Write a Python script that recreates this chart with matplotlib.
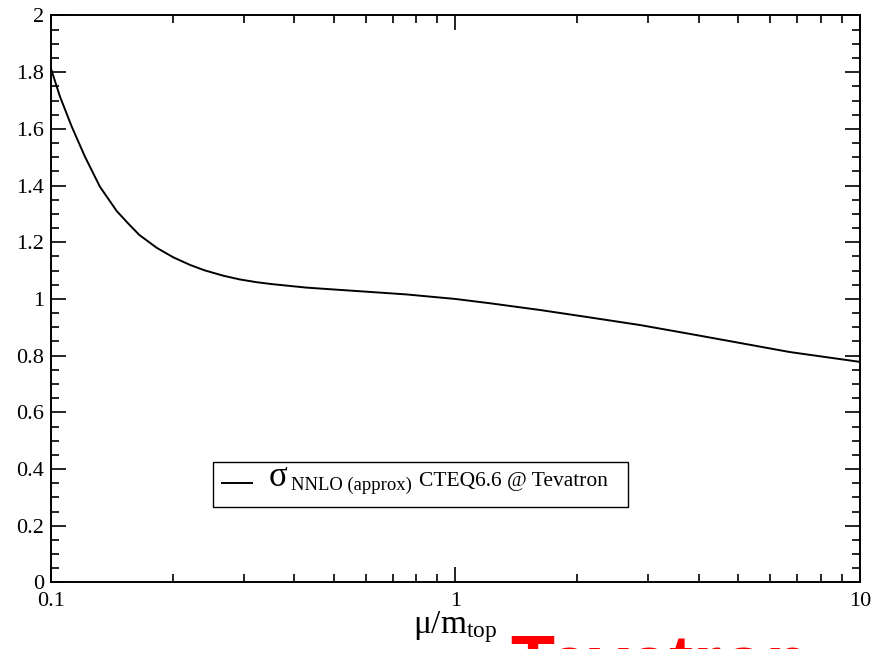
import matplotlib

matplotlib.use("Agg")
import matplotlib.pyplot as plt
from matplotlib.patches import Rectangle
from matplotlib.ticker import FixedLocator, FuncFormatter, MultipleLocator

plt.rcParams["font.family"] = ["Liberation Serif", "DejaVu Serif"]
plt.rcParams["mathtext.fontset"] = "custom"
plt.rcParams["mathtext.rm"] = "Liberation Serif"
plt.rcParams["mathtext.it"] = "Liberation Serif:italic"

# mu / m_top (log scale) and normalised NNLO cross section
MU_OVER_MTOP = [0.100, 0.1054, 0.1127, 0.1215, 0.1323, 0.1456, 0.155, 0.1655, 0.183, 0.2008,
                0.221, 0.240, 0.267, 0.293, 0.323, 0.354, 0.429, 0.518, 0.627, 0.757,
                0.916, 1.0, 1.215, 1.62, 2.146, 2.86, 3.79, 5.04, 6.69, 10.0]
SIGMA_RATIO = [1.815, 1.714, 1.608, 1.502, 1.396, 1.310, 1.268, 1.226, 1.180, 1.147,
               1.120, 1.101, 1.082, 1.069, 1.059, 1.052, 1.040, 1.032, 1.024, 1.016,
               1.005, 1.000, 0.985, 0.961, 0.935, 0.908, 0.877, 0.845, 0.813, 0.778]

X_TICKS = [0.1, 1, 10]
Y_MAX = 2.0

fig = plt.figure(figsize=(8.85, 6.49), dpi=100)
ax = fig.add_axes([0.0573, 0.1025, 0.9145, 0.8737])

ax.plot(MU_OVER_MTOP, SIGMA_RATIO, color="black", lw=1.4, solid_joinstyle="round")

ax.set_xscale("log")
ax.set_xlim(0.1, 10)
ax.set_ylim(0, Y_MAX)
ax.xaxis.set_major_locator(FixedLocator(X_TICKS))
ax.xaxis.set_major_formatter(FuncFormatter(lambda v, p: f"{v:g}"))
ax.yaxis.set_major_locator(MultipleLocator(0.2))
ax.yaxis.set_minor_locator(MultipleLocator(0.05))
ax.yaxis.set_major_formatter(FuncFormatter(lambda v, p: f"{v:g}"))

ax.tick_params(which="both", direction="in", top=True, right=True, width=1.2, labelsize=16)
ax.tick_params(which="major", length=11)
ax.tick_params(which="minor", length=5.5)
ax.tick_params(axis="x", pad=6.5)
ax.tick_params(axis="y", pad=5)
for sp in ax.spines.values():
    sp.set_linewidth(1.4)

ax.set_xlabel(r"μ/m$_{\mathrm{top}}$", fontsize=24, labelpad=-1)

# hand-made legend box (xmgrace style)
ax.add_patch(Rectangle((0.2002, 0.1326), 0.5135, 0.0805, transform=ax.transAxes,
                       fill=False, edgecolor="black", lw=1.0))
ax.plot([0.2113, 0.2484], [0.1755, 0.1755], transform=ax.transAxes, color="black", lw=1.4)
ax.text(0.2695, 0.1702, "σ", transform=ax.transAxes, fontsize=25, va="baseline")
ax.text(0.297, 0.1626, "NNLO (approx)", transform=ax.transAxes, fontsize=13.4, va="baseline")
ax.text(0.4555, 0.1702, "CTEQ6.6 @ Tevatron", transform=ax.transAxes, fontsize=15.5, va="baseline")

# big red caption, cut off by the bottom edge of the image
fig.text(0.576, -0.0564, "Tevatron", color="red", fontsize=52, fontweight="bold",
         family="Liberation Sans", va="baseline")

fig.savefig("out.png", dpi=100)
